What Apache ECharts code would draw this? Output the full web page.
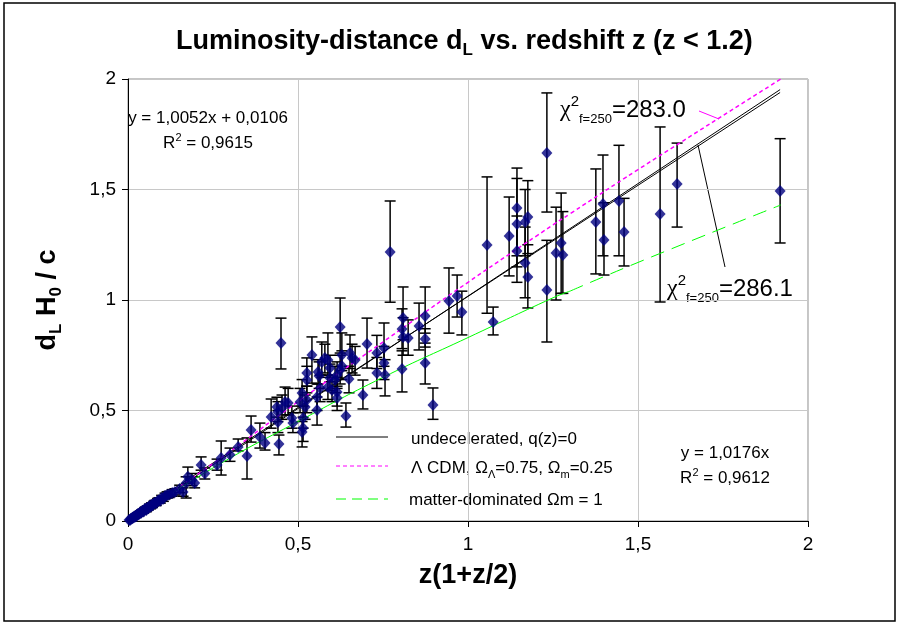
<!DOCTYPE html>
<html>
<head>
<meta charset="utf-8">
<script src="https://cdn.jsdelivr.net/npm/echarts@6.0.0/dist/echarts.min.js"></script>
<style>
  html, body { margin: 0; padding: 0; background: #fff; }
  #main { width: 901px; height: 625px; }
</style>
</head>
<body>
<div id="main"></div>
<script>
// supernovae: [z(1+z/2), dL H0/c, lower end of bar, upper end of bar]
const snPoints = [
  [0.003,0.004,0.001,0.007],[0.006,0.005,0.002,0.008],[0.008,0.009,0.005,0.013],
  [0.010,0.011,0.007,0.015],[0.013,0.012,0.008,0.016],[0.015,0.016,0.012,0.020],
  [0.017,0.019,0.014,0.024],[0.020,0.018,0.013,0.023],[0.022,0.024,0.019,0.029],
  [0.025,0.023,0.018,0.028],[0.027,0.029,0.024,0.034],[0.029,0.031,0.025,0.037],
  [0.032,0.030,0.024,0.036],[0.034,0.036,0.030,0.042],[0.036,0.039,0.033,0.045],
  [0.039,0.037,0.031,0.043],[0.041,0.044,0.037,0.051],[0.044,0.046,0.039,0.053],
  [0.046,0.043,0.036,0.050],[0.049,0.052,0.045,0.059],[0.051,0.055,0.047,0.063],
  [0.054,0.050,0.042,0.058],[0.057,0.060,0.052,0.068],[0.060,0.058,0.050,0.066],
  [0.063,0.067,0.058,0.076],[0.066,0.064,0.055,0.073],[0.069,0.073,0.064,0.082],
  [0.072,0.070,0.061,0.079],[0.076,0.079,0.069,0.089],[0.079,0.083,0.073,0.093],
  [0.083,0.080,0.070,0.090],[0.087,0.091,0.080,0.102],[0.091,0.094,0.083,0.105],
  [0.095,0.092,0.081,0.103],[0.099,0.104,0.092,0.116],[0.104,0.101,0.089,0.113],
  [0.109,0.113,0.100,0.126],[0.115,0.118,0.104,0.132],[0.121,0.120,0.106,0.134],
  [0.130,0.127,0.112,0.142],
  [0.138,0.131,0.118,0.146],[0.152,0.145,0.128,0.162],[0.162,0.131,0.112,0.150],
  [0.171,0.172,0.104,0.200],[0.176,0.200,0.170,0.244],[0.196,0.172,0.150,0.200],
  [0.188,0.185,0.160,0.215],[0.215,0.253,0.230,0.290],[0.226,0.215,0.190,0.240],
  [0.262,0.253,0.230,0.280],[0.274,0.285,0.208,0.362],[0.300,0.300,0.270,0.330],
  [0.324,0.335,0.317,0.371],[0.350,0.294,0.190,0.376],[0.362,0.412,0.357,0.475],
  [0.388,0.380,0.330,0.443],[0.403,0.353,0.321,0.400],[0.421,0.471,0.420,0.552],
  [0.441,0.448,0.400,0.500],[0.444,0.348,0.299,0.389],[0.450,0.805,0.688,0.918],
  [0.453,0.511,0.460,0.570],[0.462,0.538,0.480,0.606],[0.438,0.516,0.470,0.560],
  [0.441,0.493,0.450,0.540],[0.482,0.466,0.420,0.520],[0.485,0.443,0.400,0.490],
  [0.471,0.534,0.480,0.600],[0.515,0.466,0.420,0.520],[0.515,0.421,0.360,0.470],
  [0.512,0.403,0.335,0.450],[0.512,0.579,0.520,0.640],[0.521,0.516,0.460,0.570],
  [0.506,0.538,0.490,0.600],[0.526,0.670,0.610,0.738],[0.526,0.638,0.580,0.700],
  [0.526,0.547,0.490,0.610],[0.541,0.751,0.624,0.833],[0.556,0.502,0.434,0.561],
  [0.556,0.561,0.500,0.620],[0.565,0.602,0.540,0.660],[0.562,0.656,0.600,0.720],
  [0.559,0.674,0.620,0.730],[0.570,0.720,0.650,0.810],[0.579,0.738,0.670,0.800],
  [0.588,0.729,0.660,0.851],[0.594,0.647,0.590,0.710],[0.594,0.692,0.630,0.750],
  [0.609,0.638,0.580,0.700],[0.588,0.606,0.550,0.660],[0.600,0.593,0.540,0.650],
  [0.615,0.661,0.600,0.720],[0.615,0.584,0.520,0.650],[0.615,0.557,0.500,0.610],
  [0.624,0.878,0.760,1.009],[0.629,0.751,0.680,0.851],[0.629,0.701,0.640,0.770],
  [0.624,0.683,0.620,0.750],[0.650,0.643,0.580,0.700],[0.653,0.760,0.690,0.842],
  [0.659,0.738,0.670,0.800],[0.641,0.475,0.425,0.534],[0.668,0.729,0.660,0.790],
  [0.691,0.570,0.507,0.638],[0.703,0.801,0.692,0.918],[0.732,0.760,0.690,0.840],
  [0.732,0.670,0.600,0.740],[0.753,0.783,0.700,0.896],[0.753,0.715,0.640,0.790],
  [0.756,0.661,0.566,0.730],[0.771,1.217,0.990,1.448],[0.806,0.869,0.780,0.960],
  [0.809,0.919,0.820,1.059],[0.809,0.833,0.750,0.920],[0.824,0.828,0.750,0.910],
  [0.806,0.688,0.584,0.770],[0.856,0.882,0.774,0.986],[0.874,0.928,0.850,1.059],
  [0.874,0.824,0.787,0.870],[0.874,0.715,0.620,0.805],[0.897,0.525,0.460,0.602],
  [0.944,0.995,0.850,1.145],[0.968,1.018,0.923,1.113],[0.982,0.946,0.842,1.040],
  [1.056,1.249,0.940,1.557],[1.074,0.900,0.842,0.968],[1.121,1.290,1.109,1.466],
  [1.144,1.416,1.200,1.597],[1.144,1.344,1.150,1.550],[1.144,1.222,1.080,1.380],
  [1.168,1.353,1.200,1.500],[1.176,1.376,1.210,1.540],[1.168,1.167,1.010,1.330],
  [1.176,1.104,0.964,1.250],[1.232,1.665,1.398,1.937],[1.232,1.045,0.810,1.270],
  [1.259,1.213,1.000,1.420],[1.274,1.258,1.030,1.484],[1.279,1.204,1.030,1.400],
  [1.376,1.353,1.118,1.593],[1.397,1.434,1.200,1.656],[1.400,1.271,1.113,1.440],
  [1.444,1.448,1.200,1.700],[1.459,1.308,1.154,1.460],[1.565,1.389,0.991,1.783],
  [1.615,1.525,1.330,1.710],[1.918,1.493,1.258,1.730]
];

// model curves
const modelX    = [0, 0.25, 0.5, 0.75, 1, 1.25, 1.3, 1.5, 1.92];
const lcdmY     = [0, 0.26, 0.54, 0.81, 1.08, 1.34, 1.39, 1.59, 2.0];
const matterY   = [0, 0.24, 0.45, 0.65, 0.83, 1.01, 1.04, 1.17, 1.43];
// the two fitted straight lines
const fitX      = [0, 1.918];
const fitOffset = [0.011, 1.939];
const fitOrigin = [0, 1.952];

const FONT = '"Liberation Sans", Arial, sans-serif';
const pairs = (xs, ys) => xs.map((x, i) => [x, ys[i]]);
const comma = v => String(v).replace('.', ',');

const chart = echarts.init(document.getElementById('main'));

const subRich = (size, lh) => ({
  b: { fontSize: size, fontWeight: 'bold', fontFamily: FONT, color: '#000', lineHeight: lh },
  s: { fontSize: Math.round(size * 0.62), fontWeight: 'bold', fontFamily: FONT, color: '#000', lineHeight: 18, verticalAlign: 'bottom' }
});

const chiRich = (color) => ({
  c: { fontSize: 24, fontFamily: '"Liberation Serif", serif', color: color, lineHeight: 32 },
  n: { fontSize: 24, fontFamily: FONT, color: color, lineHeight: 32 },
  p: { fontSize: 15, fontFamily: FONT, color: color, lineHeight: 12, verticalAlign: 'top' },
  s: { fontSize: 13, fontFamily: FONT, color: color, lineHeight: 18, verticalAlign: 'bottom' }
});

const eqRich = {
  t: { fontSize: 17, fontFamily: FONT, color: '#000', lineHeight: 22 },
  p: { fontSize: 11, fontFamily: FONT, color: '#000', lineHeight: 10, verticalAlign: 'top' }
};

const legRich = {
  t: { fontSize: 17, fontFamily: FONT, color: '#000', lineHeight: 24 },
  s: { fontSize: 11, fontFamily: FONT, color: '#000', lineHeight: 12, verticalAlign: 'bottom' }
};

chart.setOption({
  backgroundColor: '#fff',
  animation: false,
  textStyle: { fontFamily: FONT },
  title: {
    text: '{b|Luminosity-distance d}{s|L}{b| vs. redshift z (z < 1.2)}',
    left: 171,
    top: 20,
    textStyle: { rich: subRich(27, 34) }
  },
  grid: {
    left: 128, right: 93, top: 79, bottom: 104,
    show: true, borderColor: '#8c8c8c', borderWidth: 1
  },
  xAxis: {
    type: 'value', min: 0, max: 2, interval: 0.5,
    axisLine: { show: true, onZero: false, lineStyle: { color: '#000', width: 1 } },
    axisTick: { show: true, length: 6, lineStyle: { color: '#000' } },
    axisLabel: { fontSize: 19, color: '#000', margin: 14, formatter: comma },
    splitLine: { show: true, lineStyle: { color: '#c8c8c8' } },
    name: 'z(1+z/2)', nameLocation: 'middle', nameGap: 31,
    nameTextStyle: { fontSize: 27, fontWeight: 'bold', color: '#000', lineHeight: 34 }
  },
  yAxis: {
    type: 'value', min: 0, max: 2, interval: 0.5,
    axisLine: { show: true, onZero: false, lineStyle: { color: '#000', width: 1 } },
    axisTick: { show: true, length: 6, lineStyle: { color: '#000' } },
    axisLabel: { fontSize: 19, color: '#000', margin: 12, formatter: comma },
    splitLine: { show: true, lineStyle: { color: '#c8c8c8' } },
    name: '{b|d}{s|L}{b| H}{s|0}{b| / c}', nameLocation: 'middle', nameGap: 63,
    nameTextStyle: { rich: subRich(27, 34) }
  },
  series: [
    {
      type: 'custom',
      z: 2,
      clip: true,
      data: snPoints,
      encode: { x: 0, y: [2, 3] },
      renderItem: function (params, api) {
        const x = api.value(0);
        const lo = api.coord([x, api.value(2)]);
        const hi = api.coord([x, api.value(3)]);
        const w = 5.5;
        const st = { stroke: '#000', lineWidth: 1.5 };
        return {
          type: 'group',
          children: [
            { type: 'line', shape: { x1: lo[0], y1: lo[1], x2: hi[0], y2: hi[1] }, style: st },
            { type: 'line', shape: { x1: lo[0] - w, y1: lo[1], x2: lo[0] + w, y2: lo[1] }, style: st },
            { type: 'line', shape: { x1: hi[0] - w, y1: hi[1], x2: hi[0] + w, y2: hi[1] }, style: st }
          ]
        };
      }
    },
    {
      type: 'line', z: 3, symbol: 'none', silent: true,
      data: pairs(fitX, fitOffset),
      lineStyle: { color: '#000', width: 1 }
    },
    {
      type: 'line', z: 3, symbol: 'none', silent: true,
      data: pairs(fitX, fitOrigin),
      lineStyle: { color: '#000', width: 1 }
    },
    {
      type: 'line', z: 3, symbol: 'none', silent: true, smooth: true,
      data: pairs(modelX, lcdmY),
      lineStyle: { color: '#ff00ff', width: 1.5, type: [4, 3] }
    },
    {
      type: 'line', z: 3, symbol: 'none', silent: true, smooth: true,
      data: pairs(modelX.slice(0, 7), matterY.slice(0, 7)),
      lineStyle: { color: '#00ff00', width: 1 }
    },
    {
      type: 'line', z: 3, symbol: 'none', silent: true, smooth: true,
      data: pairs(modelX.slice(6), matterY.slice(6)),
      lineStyle: { color: '#00ff00', width: 1, type: [14, 8] }
    },
    {
      type: 'scatter', z: 4,
      data: snPoints.map(p => [p[0], p[1]]),
      symbol: 'diamond', symbolSize: [11, 12],
      itemStyle: { color: '#000080' }
    }
  ],
  graphic: [
    { type: 'rect', shape: { x: 4, y: 3, width: 891, height: 618 }, style: { fill: 'none', stroke: '#000', lineWidth: 1.5 } },
    // trend line equations
    { type: 'text', x: 208, y: 118, style: { text: 'y = 1,0052x + 0,0106', font: '17px ' + FONT, fill: '#000', align: 'center', verticalAlign: 'middle' } },
    { type: 'text', x: 208, y: 143, style: { text: '{t|R}{p|2}{t| = 0,9615}', rich: eqRich, align: 'center', verticalAlign: 'middle' } },
    { type: 'text', x: 725, y: 453, style: { text: 'y = 1,0176x', font: '17px ' + FONT, fill: '#000', align: 'center', verticalAlign: 'middle' } },
    { type: 'text', x: 725, y: 478, style: { text: '{t|R}{p|2}{t| = 0,9612}', rich: eqRich, align: 'center', verticalAlign: 'middle' } },
    // chi-square labels and their pointers
    { type: 'text', x: 560, y: 94, style: { text: '{c|χ}{p|2}{s|f=250}{n|=283.0}', rich: chiRich('#ff00ff') } },
    { type: 'line', shape: { x1: 699, y1: 111, x2: 719, y2: 119 }, style: { stroke: '#ff00ff', lineWidth: 1 } },
    { type: 'text', x: 667, y: 273, style: { text: '{c|χ}{p|2}{s|f=250}{n|=286.1}', rich: chiRich('#000') } },
    { type: 'line', shape: { x1: 698, y1: 145, x2: 725, y2: 267 }, style: { stroke: '#000', lineWidth: 1 } },
    // legend
    { type: 'line', shape: { x1: 336, y1: 437, x2: 388, y2: 437 }, style: { stroke: '#000', lineWidth: 1 } },
    { type: 'text', x: 411, y: 439, style: { text: 'undecelerated, q(z)=0', font: '17px ' + FONT, fill: '#000', verticalAlign: 'middle' } },
    { type: 'line', shape: { x1: 336, y1: 466, x2: 388, y2: 466 }, style: { stroke: '#ff00ff', lineWidth: 1, lineDash: [4, 3] } },
    { type: 'text', x: 411, y: 468, style: { text: '{t|Λ CDM, Ω}{s|Λ}{t|=0.75, Ω}{s|m}{t|=0.25}', rich: legRich, verticalAlign: 'middle' } },
    { type: 'line', shape: { x1: 336, y1: 499, x2: 388, y2: 499 }, style: { stroke: '#00ff00', lineWidth: 1, lineDash: [10, 6] } },
    { type: 'text', x: 409, y: 500, style: { text: 'matter-dominated Ωm = 1', font: '17px ' + FONT, fill: '#000', verticalAlign: 'middle' } }
  ]
});

window.onresize = function () {
  chart.resize();
};
</script>
</body>
</html>
